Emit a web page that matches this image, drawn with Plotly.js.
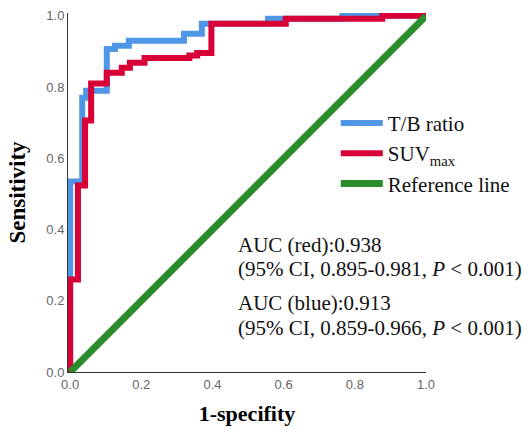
<!DOCTYPE html>
<html>
<head>
<meta charset="utf-8">
<script src="https://cdn.plot.ly/plotly-3.0.1.min.js"></script>
<style>html,body{margin:0;padding:0;background:#fff;}#chart{width:522px;height:429px;}</style>
</head>
<body>
<div id="chart"></div>
<script>
// ROC operating points (1-specificity, sensitivity), drawn as vertical-then-horizontal steps
const tbFpr  = [0, 0.034, 0.045, 0.103, 0.126, 0.165, 0.32, 0.37, 0.556, 0.765, 1];
const tbTpr  = [0, 0.535, 0.77, 0.79, 0.907, 0.916, 0.93, 0.95, 0.978, 0.992, 1];
const suvFpr = [0, 0.022, 0.042, 0.059, 0.103, 0.145, 0.168, 0.209, 0.335, 0.357, 0.397, 0.606, 0.877, 1];
const suvTpr = [0, 0.26, 0.524, 0.706, 0.81, 0.84, 0.854, 0.868, 0.882, 0.889, 0.896, 0.978, 0.992, 1];
const refX = [0, 1];
const refY = [0, 1];
const seriesNames = ['T/B ratio', 'SUV<sub>max</sub>', 'Reference line'];
const tickVals = [0, 0.2, 0.4, 0.6, 0.8, 1.0];
const aucLines = [
  'AUC (red):0.938',
  '(95% CI, 0.895-0.981, <i>P</i> < 0.001)',
  'AUC (blue):0.913',
  '(95% CI, 0.859-0.966, <i>P</i> < 0.001)'
];

const serif = 'Liberation Serif, Times New Roman, serif';
const traces = [
  {x: tbFpr, y: tbTpr, name: seriesNames[0], mode: 'lines', line: {color: '#5096E6', width: 6, shape: 'vh'}},
  {x: suvFpr, y: suvTpr, name: seriesNames[1], mode: 'lines', line: {color: '#D70037', width: 6, shape: 'vh'}},
  {x: refX, y: refY, name: seriesNames[2], mode: 'lines', line: {color: '#2A8C2A', width: 7}}
];
const annY = [0.354, 0.287, 0.192, 0.123];
const annotations = aucLines.map((t, i) => ({
  text: t, xref: 'paper', yref: 'paper', x: 0.47, y: annY[i],
  xanchor: 'left', yanchor: 'middle', showarrow: false,
  font: {family: serif, size: 21, color: '#111'}
}));
const layout = {
  width: 522, height: 429,
  margin: {l: 68, r: 96, t: 13, b: 57, pad: 0, autoexpand: false},
  paper_bgcolor: '#fff', plot_bgcolor: '#fff',
  showlegend: true,
  legend: {x: 0.748, xanchor: 'left', y: 0.75, yanchor: 'top', bgcolor: 'rgba(0,0,0,0)',
           font: {family: serif, size: 21, color: '#111'}, itemwidth: 42, tracegroupgap: 0},
  xaxis: {range: [-0.006, 1], tickvals: tickVals, tickformat: '.1f', showgrid: false, zeroline: false,
          showline: true, linecolor: '#333', linewidth: 1, ticks: '', automargin: false,
          tickfont: {family: 'Liberation Sans, Arial, sans-serif', size: 13, color: '#666'},
          title: {text: '<b>1-specifity</b>', standoff: 15, font: {family: serif, size: 22, color: '#000'}}},
  yaxis: {range: [0, 1.008], tickvals: tickVals, tickformat: '.1f', showgrid: false, zeroline: false,
          showline: true, linecolor: '#333', linewidth: 1, ticks: '', automargin: false,
          tickfont: {family: 'Liberation Sans, Arial, sans-serif', size: 13, color: '#666'},
          title: {text: '<b>Sensitivity</b>', standoff: 14, font: {family: serif, size: 23, color: '#000'}}},
  annotations: annotations
};
Plotly.newPlot('chart', traces, layout, {displayModeBar: false, staticPlot: true});
</script>
</body>
</html>
